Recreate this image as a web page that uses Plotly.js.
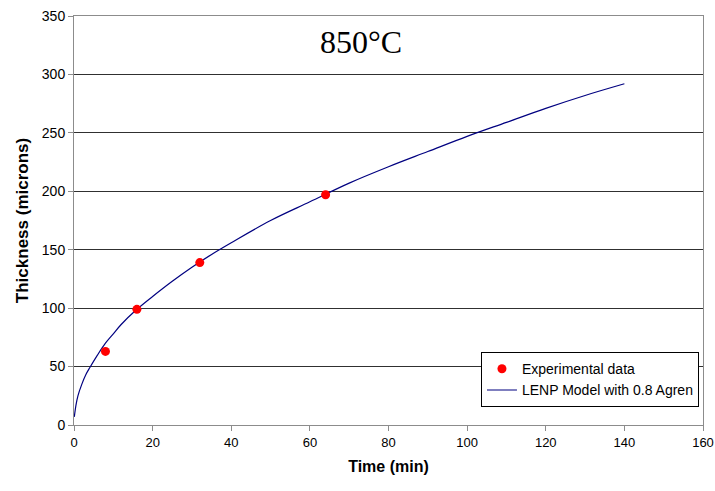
<!DOCTYPE html>
<html>
<head>
<meta charset="utf-8">
<script src="https://cdn.plot.ly/plotly-3.0.1.min.js"></script>
<style>
  html, body { margin: 0; padding: 0; background: #fff; }
  #chart { width: 715px; height: 491px; }
</style>
</head>
<body>
<div id="chart"></div>
<script>
// Measured layer thickness at 850°C
const expTime = [8, 16, 32, 64];
const expThickness = [63, 99, 139, 197];

// LENP model curve (0.8 Agren)
const modelTime = [0.08, 0.5, 1, 2, 3, 4, 6, 8, 10, 12, 16, 20, 25, 30, 35, 40, 50, 60, 70, 80, 90, 100, 110, 120, 130, 140];
const modelThickness = [7, 17, 25, 35, 43, 49, 60, 70, 78, 86, 99, 110, 123, 135, 146, 156, 175, 191, 207, 221, 234, 247, 259, 271, 282, 292];

const xTicks = [0, 20, 40, 60, 80, 100, 120, 140, 160];
const yTicks = [0, 50, 100, 150, 200, 250, 300, 350];

const traces = [
  {
    x: modelTime, y: modelThickness,
    type: 'scatter', mode: 'lines',
    name: 'LENP Model with 0.8 Agren',
    line: { color: '#000080', width: 1.2, shape: 'spline', smoothing: 1 }
  },
  {
    x: expTime, y: expThickness,
    type: 'scatter', mode: 'markers',
    name: 'Experimental data',
    marker: { color: '#FF0000', size: 9, symbol: 'circle' }
  }
];

const sans = 'Liberation Sans, Arial, sans-serif';

const layout = {
  width: 715, height: 491,
  margin: { l: 74, r: 12, t: 16, b: 66, autoexpand: false },
  paper_bgcolor: '#fff', plot_bgcolor: '#fff',
  showlegend: true,
  legend: {
    x: 0.647, y: 0.178, xanchor: 'left', yanchor: 'top',
    bgcolor: '#fff', bordercolor: '#000', borderwidth: 1,
    font: { family: sans, size: 14, color: '#000' },
    traceorder: 'reversed', tracegroupgap: 0, itemwidth: 30
  },
  xaxis: {
    range: [0, 160], tickvals: xTicks, ticktext: xTicks.map(String),
    showgrid: false, zeroline: false,
    showline: true, linecolor: '#8c8c8c', linewidth: 1, mirror: true,
    ticks: 'outside', ticklen: 5, tickcolor: '#8c8c8c',
    tickfont: { family: sans, size: 13, color: '#000' }, ticklabeloverflow: 'allow',
    title: { text: '<b>Time (min)</b>', font: { family: sans, size: 16, color: '#000' }, standoff: 12 }
  },
  yaxis: {
    range: [0, 350], tickvals: yTicks, ticktext: yTicks.map(String),
    showgrid: true, gridcolor: '#303030', gridwidth: 1, zeroline: false,
    showline: true, linecolor: '#8c8c8c', linewidth: 1, mirror: true,
    ticks: 'outside', ticklen: 5, tickcolor: '#8c8c8c',
    tickfont: { family: sans, size: 14, color: '#000' },
    title: { text: '<b>Thickness (microns)</b>', font: { family: sans, size: 17, color: '#000' }, standoff: 8 }
  },
  annotations: [
    {
      x: 73, y: 328, xref: 'x', yref: 'y',
      text: '850°C', showarrow: false,
      font: { family: 'Liberation Serif, Times New Roman, serif', size: 32, color: '#000' }
    }
  ]
};

Plotly.newPlot('chart', traces, layout, { displayModeBar: false, staticPlot: true });
</script>
</body>
</html>
